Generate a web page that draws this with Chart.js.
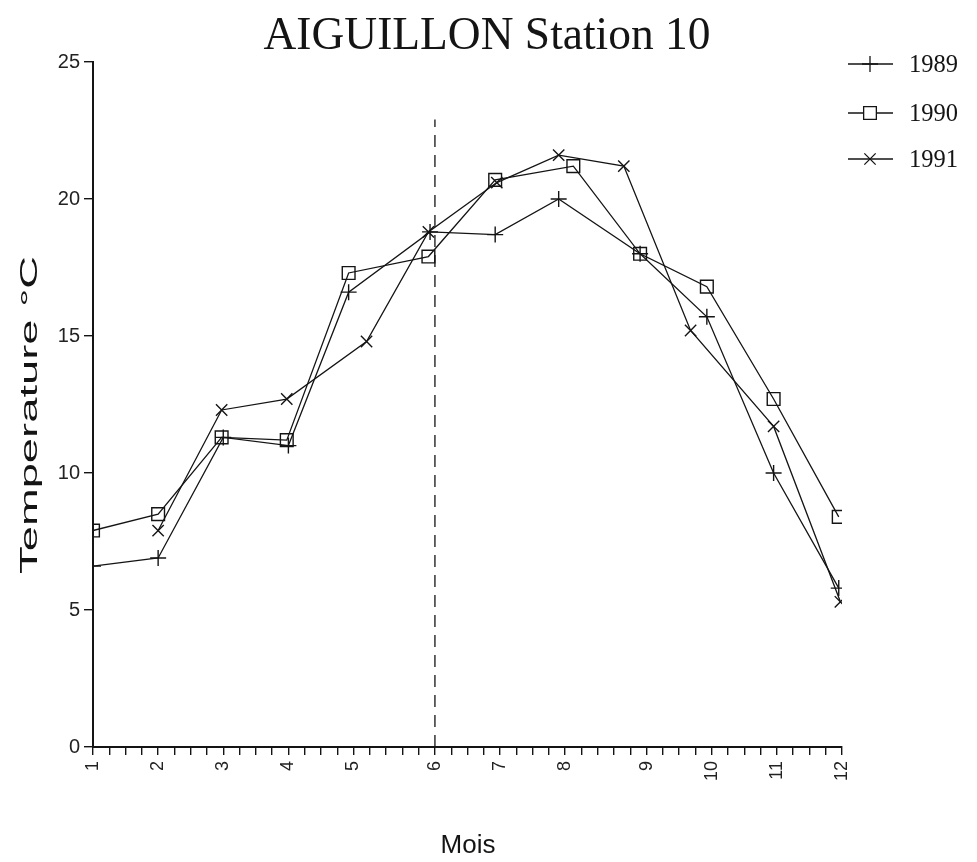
<!DOCTYPE html>
<html>
<head>
<meta charset="utf-8">
<script src="https://cdn.jsdelivr.net/npm/chart.js@4/dist/chart.umd.min.js"></script>
<style>
  html, body { margin: 0; padding: 0; background: #fff; }
  #wrap { width: 977px; height: 862px; }
</style>
</head>
<body>
<div id="wrap"><canvas id="chart" width="977" height="862"></canvas></div>
<script>
// x is measured in small axis steps (46 steps from month 1 to month 12)
const monthTicks = [0, 4, 8, 12, 16, 21, 25, 29, 34, 38, 42, 46];
const monthLabels = ['1', '2', '3', '4', '5', '6', '7', '8', '9', '10', '11', '12'];
const yTicks = [0, 5, 10, 15, 20, 25];

const x1989 = [0, 4, 8, 12, 15.7, 20.7, 24.7, 28.6, 33.6, 37.7, 41.8, 45.8];
const t1989 = [6.6, 6.9, 11.3, 11.0, 16.6, 18.8, 18.7, 20.0, 18.0, 15.7, 10.0, 5.8];

const x1990 = [0, 4, 7.9, 11.9, 15.7, 20.6, 24.7, 29.5, 33.6, 37.7, 41.8, 45.8];
const t1990 = [7.9, 8.5, 11.3, 11.2, 17.3, 17.9, 20.7, 21.2, 18.0, 16.8, 12.7, 8.4];

const x1991 = [4, 7.9, 11.9, 16.8, 20.6, 24.8, 28.6, 32.6, 36.7, 41.8, 45.9];
const t1991 = [7.9, 12.3, 12.7, 14.8, 18.8, 20.6, 21.6, 21.2, 15.2, 11.7, 5.3];

// dashed marker at month 6
const markX = [21, 21];
const markY = [0, 22.9];

const pts = (xs, ys) => xs.map((x, i) => ({ x: x, y: ys[i] }));

const series = [
    { label: '1989', xs: x1989, ys: t1989, style: 'cross', r: 8 },
    { label: '1990', xs: x1990, ys: t1990, style: 'rect', r: 9 },
    { label: '1991', xs: x1991, ys: t1991, style: 'crossRot', r: 8 }
];

const ink = '#141414';

const datasets = series.map(s => ({
    label: s.label,
    data: pts(s.xs, s.ys),
    borderColor: ink,
    borderWidth: 1.3,
    tension: 0,
    pointStyle: s.style,
    pointRadius: s.r,
    pointBorderColor: ink,
    pointBorderWidth: 1.4,
    pointBackgroundColor: 'rgba(255,255,255,0)'
}));

datasets.push({
    label: 'mark',
    data: pts(markX, markY),
    borderColor: ink,
    borderWidth: 1.3,
    borderDash: [12, 8],
    pointRadius: 0
});

// titles + legend drawn on top
const decor = {
    id: 'decor',
    afterDraw(chart) {
        const ctx = chart.ctx;
        ctx.save();
        ctx.fillStyle = ink;

        // main title
        ctx.save();
        ctx.font = '36px "Liberation Serif"';
        ctx.textAlign = 'center';
        ctx.textBaseline = 'alphabetic';
        const tt = 'AIGUILLON Station 10';
        const tw = ctx.measureText(tt).width;
        ctx.translate(487, 49);
        ctx.scale(447 / tw, 1.3);
        ctx.fillText(tt, 0, 0);
        ctx.restore();

        // y title
        ctx.save();
        ctx.font = '24px "Liberation Sans"';
        ctx.textAlign = 'left';
        ctx.textBaseline = 'middle';
        ctx.translate(30, 574);
        ctx.rotate(-Math.PI / 2);
        const yt = 'Temperature °C';
        const w = ctx.measureText(yt).width;
        ctx.scale(318 / w, 1);
        ctx.fillText(yt, 0, 0);
        ctx.restore();

        // x title
        ctx.save();
        ctx.font = '26px "Liberation Sans"';
        ctx.textAlign = 'center';
        ctx.textBaseline = 'alphabetic';
        ctx.fillText('Mois', 468, 853);
        ctx.restore();

        // legend
        const rows = [64, 113, 159];
        series.forEach((s, i) => {
            const y = rows[i];
            ctx.strokeStyle = ink;
            ctx.lineWidth = 1.3;
            ctx.beginPath();
            ctx.moveTo(848, y);
            ctx.lineTo(893, y);
            ctx.stroke();
            ctx.save();
            ctx.fillStyle = '#fff';
            Chart.helpers.drawPoint(ctx, {
                pointStyle: s.style, radius: s.r, rotation: 0, borderWidth: 1.4
            }, 870, y);
            ctx.restore();
            ctx.save();
            ctx.font = '20px "Liberation Serif"';
            ctx.textAlign = 'left';
            ctx.textBaseline = 'alphabetic';
            const lw = ctx.measureText(s.label).width;
            ctx.translate(909, y + 8);
            ctx.scale(49 / lw, 1.25);
            ctx.fillText(s.label, 0, 0);
            ctx.restore();
        });
        ctx.restore();
    }
};

new Chart(document.getElementById('chart'), {
    type: 'line',
    data: { datasets: datasets },
    options: {
        responsive: false,
        animation: false,
        devicePixelRatio: 1,
        layout: { padding: { top: 62, right: 135, left: 0, bottom: 0 } },
        plugins: {
            legend: { display: false },
            tooltip: { enabled: false },
            title: { display: false }
        },
        scales: {
            x: {
                type: 'linear',
                min: 0,
                max: 46,
                afterBuildTicks: s => {
                    s.ticks = Array.from({ length: 47 }, (_, i) => ({ value: i }));
                },
                afterFit: s => { s.height = 115; },
                ticks: {
                    autoSkip: false,
                    minRotation: 90,
                    maxRotation: 90,
                    padding: 6,
                    color: '#222',
                    font: { family: 'Liberation Sans', size: 18 },
                    callback: v => {
                        const k = monthTicks.indexOf(v);
                        return k >= 0 ? monthLabels[k] : '';
                    }
                },
                grid: { drawOnChartArea: false, tickLength: 8, color: ink, lineWidth: 1.4 },
                border: { color: ink, width: 2 }
            },
            y: {
                min: 0,
                max: 25,
                afterBuildTicks: s => {
                    s.ticks = yTicks.map(v => ({ value: v }));
                },
                afterFit: s => { s.width = 93; },
                ticks: {
                    padding: 4,
                    color: '#222',
                    font: { family: 'Liberation Sans', size: 20 }
                },
                grid: { drawOnChartArea: false, tickLength: 9, color: ink, lineWidth: 1.4 },
                border: { color: ink, width: 2 }
            }
        }
    },
    plugins: [decor]
});
</script>
</body>
</html>
